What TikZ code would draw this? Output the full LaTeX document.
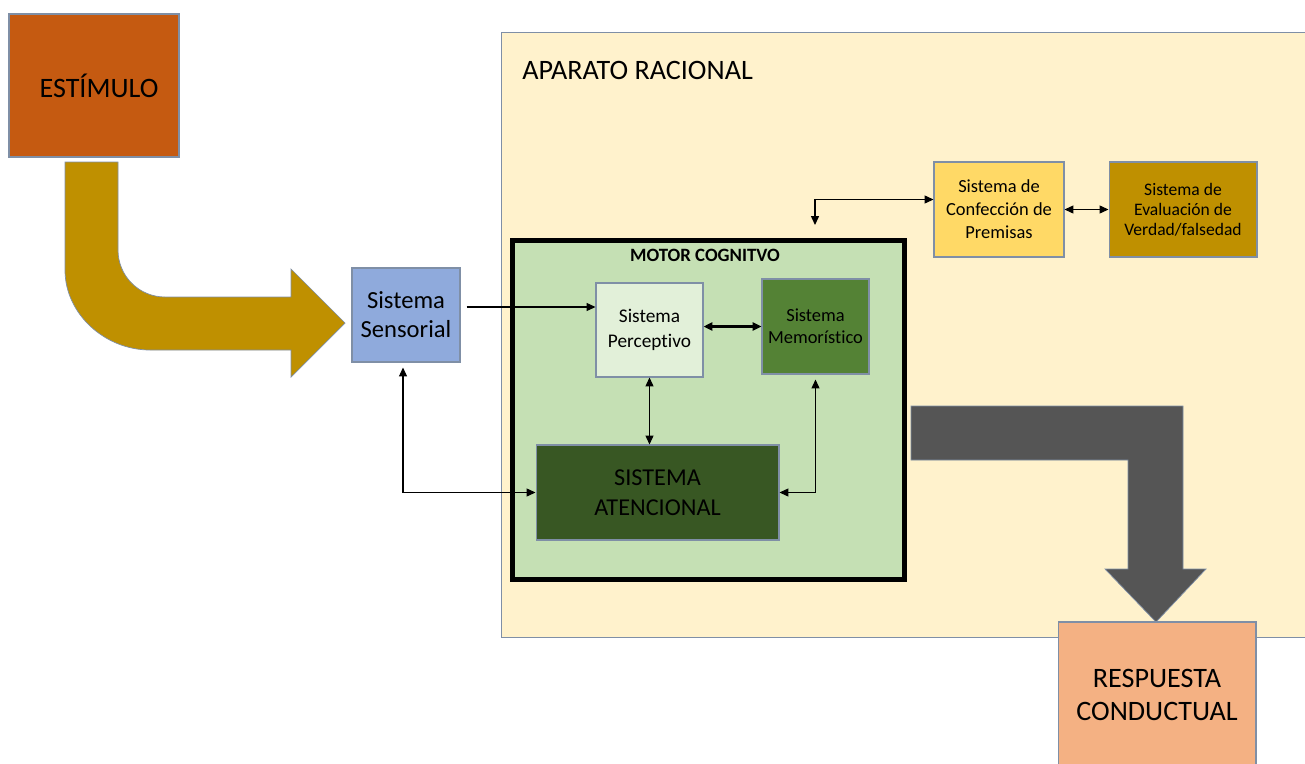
\documentclass[tikz,border=0pt]{standalone}
\usepackage{fontspec}
\setmainfont[Ligatures=NoCommon]{Carlito}
\usetikzlibrary{arrows.meta}
\definecolor{colestimulo}{HTML}{C55A11}
\definecolor{colgold}{HTML}{BF9000}
\definecolor{colsensorial}{HTML}{8FAADC}
\definecolor{colaparato}{HTML}{FFF2CC}
\definecolor{colmotor}{HTML}{C5E0B4}
\definecolor{colperceptivo}{HTML}{E2F0D9}
\definecolor{colmemoria}{HTML}{548235}
\definecolor{colatencion}{HTML}{385723}
\definecolor{colpremisas}{HTML}{FFD966}
\definecolor{colrespuesta}{HTML}{F4B183}
\definecolor{colgray}{HTML}{555555}
\definecolor{boxline}{HTML}{7F8FA6}
\begin{document}
\begin{tikzpicture}
[x=0.02cm,y=-0.02cm,
  boxdecorate/.style={shape=rectangle,draw=boxline,line width=0.6pt,align=center,inner sep=2pt},%
  linedecorate/.style={<->,>={Triangle[length=5pt,width=4.5pt]},line width=0.6pt},%
  bigarrow/.style={draw=boxline,line width=0.4pt}]
\useasboundingbox (0,0) rectangle (1305,764);
\clip (0,0) rectangle (1305,764);
%% containers
\node (aparato) at (910.5,335) [boxdecorate,fill=colaparato,minimum width=16.38cm,minimum height=12.12cm] {};
\node (aptitle) at (522,70) [anchor=west,inner sep=0pt,font=\fontsize{16}{19}\selectfont] {APARATO RACIONAL};
\node (motor) at (708.5,410) [draw=black,line width=2.8pt,fill=colmotor,minimum width=7.84cm,minimum height=6.78cm] {};
\node (motortitle) at (705,255) [font=\bfseries\fontsize{10.7}{12}\selectfont] {MOTOR COGNITVO};
%% big arrows
\path[bigarrow,fill=colgold] (65,162) -- (118,162) -- (118,250)
  .. controls (118,276) and (139,297) .. (165,297) -- (291,297) -- (291,269)
  -- (345,323) -- (291,377) -- (291,350) -- (150,350)
  .. controls (105,350) and (65,314) .. (65,270) -- cycle;
\path[bigarrow,fill=colgray] (911,406) -- (1183,406) -- (1183,569) -- (1206,569)
  -- (1156,622) -- (1105,569) -- (1128,569) -- (1128,460) -- (911,460) -- cycle;
%% boxes
\foreach \boxname/\x/\y/\w/\h/\shade/\size/\lead/\boxtext in {
  estimulo/94/85.5/3.4/2.86/colestimulo/16/19/{\hspace*{0.2cm}ESTÍMULO},
  sens/406/315/2.16/1.88/colsensorial/14/16.5/{Sistema\\Sensorial},
  perc/649.5/330/2.14/1.88/colperceptivo/11/14/{Sistema\\Perceptivo},
  memo/815.5/326.5/2.14/1.9/colmemoria/10.5/12.5/{Sistema\\Memorístico},
  aten/657.5/492.5/4.86/1.9/colatencion/13.8/17/{SISTEMA\\ATENCIONAL},
  conf/999/209.5/2.6/1.9/colpremisas/10.5/13/{Sistema de\\Confección de\\Premisas},
  eval/1183/209.5/2.96/1.9/colgold/10/11.5/{Sistema de\\Evaluación de\\Verdad/falsedad},
  resp/1157/695/3.96/2.92/colrespuesta/16/19/{RESPUESTA\\CONDUCTUAL}} {
  \node (\boxname) at (\x,\y) [boxdecorate,fill=\shade,minimum width=\w cm,minimum height=\h cm,
    font=\fontsize{\size}{\lead}\selectfont] {\boxtext};
}
%% connectors
\coordinate (sensout) at ([xshift=0.12cm,yshift=0.16cm]sens.east);
\coordinate (motorlink) at (815,225);
\draw[linedecorate,-{Triangle[length=5pt,width=4.5pt]}] (sensout) -- (sensout -| perc.west);
\draw[linedecorate,line width=1.4pt] (memo.west -| perc.east) -- (memo.west);
\draw[linedecorate] (perc.south) -- (perc.south |- aten.north);
\draw[linedecorate] ([yshift=-0.1cm]memo.south) |- (aten.east);
\draw[linedecorate] ([xshift=-0.06cm,yshift=-0.1cm]sens.south) |- (aten.west);
\draw[linedecorate] (motorlink) |- ([yshift=0.2cm]conf.west);
\draw[linedecorate] (conf.east) -- (eval.west);
\end{tikzpicture}
\end{document}
